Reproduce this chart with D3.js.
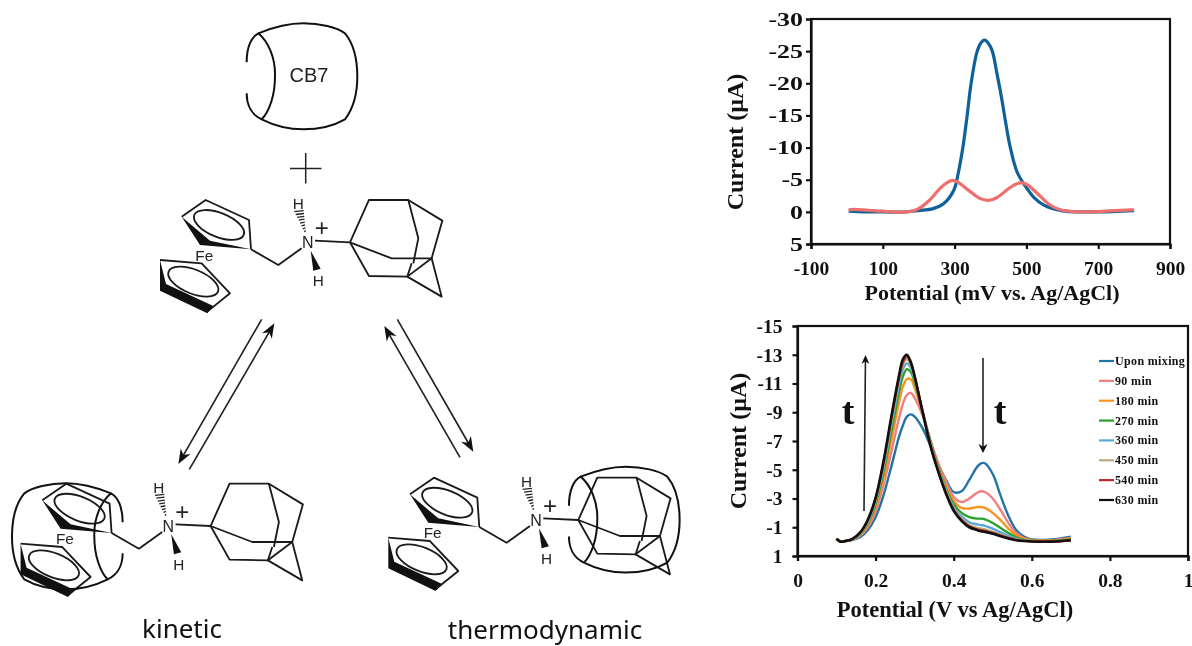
<!DOCTYPE html>
<html>
<head>
<meta charset="utf-8">
<script src="https://cdn.jsdelivr.net/npm/d3@7"></script>
<style>
body { margin: 0; background: #fff; overflow: hidden; }
svg { display: block; filter: blur(0.35px); }
.bold { font-family: "Liberation Serif", serif; font-weight: bold; fill: #111; }
.atom { font-family: "Liberation Sans", sans-serif; fill: #222; }
.label { font-family: "Noto Sans", sans-serif; fill: #111; }
.axis path, .axis line { stroke: #111; stroke-width: 2.2px; }
</style>
</head>
<body>
<script>
// top panel: oxidation peaks
var cvX1 = [5, 50, 100, 150, 200, 240, 270, 298, 310, 323, 335, 346, 363, 375, 384, 393, 405, 418, 430, 442, 454, 474, 497, 520, 550, 600, 650, 700, 800];
var cvFree = [-0.1, 0, 0, 0.05, -0.2, -0.5, -1.3, -3.4, -6, -10, -15, -20, -25, -26.4, -26.7, -26.3, -25, -21.5, -18, -14, -10.3, -6.2, -4, -2.3, -1, -0.15, 0, 0, -0.2];
var cvX2 = [5, 20, 60, 100, 170, 200, 230, 260, 280, 295, 310, 340, 370, 395, 420, 450, 470, 485, 500, 530, 560, 590, 620, 650, 700, 800];
var cvBound = [-0.3, -0.4, -0.25, -0.1, 0, -0.5, -1.8, -3.7, -4.6, -4.9, -4.6, -3.3, -2.1, -1.8, -2.3, -3.6, -4.3, -4.5, -4.3, -2.9, -1.3, -0.4, -0.1, 0, -0.05, -0.35];
var xTicks1 = [-100, 100, 300, 500, 700, 900];
var yTicks1 = [-30, -25, -20, -15, -10, -5, 0, 5];

// bottom panel: time series
var tLabels = ["Upon mixing", "90 min", "180 min", "270 min", "360 min", "450 min", "540 min", "630 min"];
var tColors = ["#2274a8", "#f07f7d", "#f8931f", "#2ca02c", "#5aa7da", "#b8ab7c", "#c0272d", "#111111"];
var tX = [0.10, 0.11, 0.12, 0.14, 0.16, 0.18, 0.20, 0.22, 0.24, 0.26, 0.27, 0.28, 0.29, 0.30, 0.32, 0.34, 0.36, 0.38, 0.40, 0.42, 0.44, 0.46, 0.47, 0.48, 0.50, 0.52, 0.54, 0.56, 0.58, 0.60, 0.65, 0.70];
var t0 = [-0.2, 0, -0.02, -0.1, -0.3, -0.8, -1.7, -3.2, -5.2, -7.3, -8.1, -8.7, -8.85, -8.7, -7.9, -6.7, -5.4, -4.3, -3.45, -3.5, -4.3, -5.2, -5.45, -5.45, -4.7, -3.2, -1.8, -0.8, -0.35, -0.15, -0.15, -0.35];
var t90 = [-0.2, 0, -0.03, -0.12, -0.4, -1, -2.1, -3.9, -6.2, -8.6, -9.6, -10.2, -10.35, -10, -8.8, -7.1, -5.5, -4.2, -3.1, -2.75, -3, -3.4, -3.5, -3.45, -3, -2.2, -1.3, -0.6, -0.25, -0.12, -0.1, -0.25];
var t180 = [-0.2, 0, -0.03, -0.14, -0.45, -1.15, -2.4, -4.4, -7, -9.7, -10.8, -11.3, -11.3, -10.7, -9, -7, -5.3, -3.9, -2.85, -2.35, -2.3, -2.4, -2.4, -2.35, -2, -1.5, -0.9, -0.45, -0.2, -0.1, -0.07, -0.2];
var t270 = [-0.2, 0, -0.03, -0.15, -0.5, -1.25, -2.6, -4.8, -7.6, -10.4, -11.5, -12, -11.8, -11.1, -9.1, -7, -5.2, -3.7, -2.6, -2, -1.7, -1.6, -1.6, -1.55, -1.3, -0.95, -0.6, -0.3, -0.12, -0.06, -0.05, -0.15];
var t360 = [-0.2, 0, -0.03, -0.16, -0.55, -1.35, -2.8, -5.1, -8, -10.9, -12, -12.4, -12.1, -11.3, -9.1, -6.9, -5.1, -3.6, -2.4, -1.75, -1.35, -1.2, -1.15, -1.1, -0.9, -0.65, -0.4, -0.2, -0.1, -0.05, -0.03, -0.12];
var t450 = [-0.2, 0, -0.03, -0.17, -0.58, -1.42, -2.9, -5.3, -8.3, -11.2, -12.3, -12.7, -12.3, -11.4, -9.1, -6.8, -5, -3.5, -2.3, -1.6, -1.15, -0.95, -0.9, -0.85, -0.68, -0.48, -0.3, -0.15, -0.07, -0.03, -0.02, -0.1];
var t540 = [-0.2, 0, -0.03, -0.18, -0.6, -1.48, -3, -5.45, -8.5, -11.4, -12.5, -12.9, -12.45, -11.5, -9.1, -6.8, -4.95, -3.4, -2.2, -1.5, -1.05, -0.85, -0.8, -0.75, -0.6, -0.42, -0.25, -0.12, -0.05, -0.02, -0.01, -0.1];
var t630 = [-0.2, 0, -0.03, -0.18, -0.62, -1.52, -3.05, -5.55, -8.65, -11.55, -12.7, -13, -12.5, -11.5, -9.05, -6.7, -4.9, -3.35, -2.15, -1.45, -1, -0.8, -0.72, -0.68, -0.55, -0.38, -0.22, -0.1, -0.04, -0.01, 0, -0.1];
var tSeries = [t0, t90, t180, t270, t360, t450, t540, t630];
var xTicks2 = [0, 0.2, 0.4, 0.6, 0.8, 1];
var yTicks2 = [-15, -13, -11, -9, -7, -5, -3, -1, 1];

// molecule drawing, traced at 3x, drawn with scale(1/3)
var barrelPath = "M290,187 C290,140 305,110 325,100 C355,125 377,175 375,230 C375,285 358,335 335,358 C305,345 290,315 290,280 M325,100 C380,78 430,70 460,70 C510,70 560,82 585,100 C610,130 622,180 622,230 C622,280 610,325 585,358 C550,378 510,388 460,388 C420,388 375,378 335,358";
var bonds = [
  [[95,650],[167,600],[297,660],[303,748]],
  [[30,780],[155,790],[240,880],[172,935]],
  [[303,748],[385,795],[455,745]],
  [[495,722],[600,727]],
  [[600,727],[657,600],[775,600],[877,662],[845,775],[725,775],[600,727]],
  [[600,727],[657,828],[772,830],[845,775]],
  [[775,600],[805,715],[790,790]],
  [[785,790],[772,830],[875,890],[845,775]]
];
var wedges = [
  [[95,650],[150,735],[303,748],[180,722]],
  [[30,780],[30,872],[172,940],[190,918],[48,852]],
  [[482,752],[490,812],[512,806]]
];
var ferrocene = [[207,675],[130,845]];
var atoms = [["Fe",136,782,46],["N",473,744,48],["H",445,628,46],["H",505,858,46],["+",515,708,72]];
var complexes = [[0,0,"none"],[-139.4,283.7,"mirror"],[228.3,277.7,"same"]];
var eqArrows = [
  [[305,28],[55,462]],
  [[88,478],[343,40]],
  [[900,442],[673,48]],
  [[712,28],[940,425]]
];

var svg = d3.select("body").append("svg").attr("width", 1192).attr("height", 646);

function bold(x, y, str, size, rotate) {
  var t = svg.append("text").attr("class", "bold").attr("text-anchor", "middle")
    .attr("font-size", size).text(str);
  if (rotate) t.attr("transform", "translate(" + x + "," + y + ") rotate(-90)");
  else t.attr("x", x).attr("y", y);
  return t;
}

// shared axes box
function panel(left, right, top, bottom, xDom, yDom, xTicks, yTicks, fontSize, xPad, yPad, yStretch) {
  var x = d3.scaleLinear().domain(xDom).range([left, right]);
  var y = d3.scaleLinear().domain(yDom).range([top, bottom]);
  svg.append("rect").attr("x", left).attr("y", top).attr("width", right - left).attr("height", bottom - top)
    .attr("fill", "none").attr("stroke", "#111").attr("stroke-width", 2.2);
  var ax = svg.append("g").attr("class", "axis").attr("transform", "translate(0," + bottom + ")")
    .call(d3.axisBottom(x).tickValues(xTicks).tickSizeOuter(0).tickSize(5).tickPadding(xPad).tickFormat(function(d) { return String(d); }));
  var ay = svg.append("g").attr("class", "axis").attr("transform", "translate(" + left + ",0)")
    .call(d3.axisLeft(y).tickValues(yTicks).tickSizeOuter(0).tickSize(5).tickPadding(yPad).tickFormat(function(d) { return String(d); }));
  ax.selectAll("text").attr("class", "bold").attr("font-size", fontSize);
  ay.selectAll("text").attr("class", "bold").attr("font-size", fontSize);
  // y labels of the first panel are wider in the picture
  ay.selectAll("text").each(function() {
    d3.select(this).attr("textLength", this.getComputedTextLength() * yStretch).attr("lengthAdjust", "spacingAndGlyphs");
  });
  return {x: x, y: y};
}

// chart 1
var p1 = panel(811, 1170, 19, 244, [-100, 900], [-30, 5], xTicks1, yTicks1, 19.5, 12, 3, 1.33);
var line1 = d3.line().curve(d3.curveCatmullRom);
svg.append("path").attr("fill", "none").attr("stroke", "#0f6199").attr("stroke-width", 3.2)
  .attr("d", line1(cvX1.map(function(d, i) { return [p1.x(d), p1.y(cvFree[i])]; })));
svg.append("path").attr("fill", "none").attr("stroke", "#ef6f6c").attr("stroke-width", 3.2)
  .attr("d", line1(cvX2.map(function(d, i) { return [p1.x(d), p1.y(cvBound[i])]; })));
bold(743, 142, "Current (µA)", 24, true);
bold(992, 300, "Potential (mV vs. Ag/AgCl)", 22);

// chart 2
var p2 = panel(797.5, 1188, 326, 556, [0, 1], [-15, 1], xTicks2, yTicks2, 19.5, 12, 10, 1);
tSeries.forEach(function(s, k) {
  svg.append("path").attr("fill", "none").attr("stroke", tColors[k]).attr("stroke-width", k == 7 ? 2.6 : 2.4)
    .attr("d", line1(tX.map(function(d, i) { return [p2.x(d), p2.y(s[i])]; })));
});
bold(746, 441, "Current (µA)", 24, true);
bold(955, 617, "Potential (V vs Ag/AgCl)", 22.5);
bold(848, 424, "t", 38);
bold(1000, 424, "t", 38);

var legendY = d3.scalePoint().domain(tLabels).range([361, 500]);
tLabels.forEach(function(d, k) {
  svg.append("line").attr("x1", 1099).attr("x2", 1114).attr("y1", legendY(d)).attr("y2", legendY(d))
    .attr("stroke", tColors[k]).attr("stroke-width", 2.2);
  svg.append("text").attr("class", "bold").attr("x", 1115).attr("y", legendY(d) + 4)
    .attr("font-size", 12).attr("letter-spacing", 0.35).text(d);
});

// time arrows
function arrow(g, a, b, len, half, width) {
  var ang = Math.atan2(b[1] - a[1], b[0] - a[0]);
  var ux = Math.cos(ang), uy = Math.sin(ang);
  g.append("line").attr("x1", a[0]).attr("y1", a[1]).attr("x2", b[0] - ux * len * 0.6).attr("y2", b[1] - uy * len * 0.6)
    .attr("stroke", "#222").attr("stroke-width", width);
  g.append("polygon").attr("fill", "#111").attr("points", [
    [b[0], b[1]],
    [b[0] - ux * len - uy * half, b[1] - uy * len + ux * half],
    [b[0] - ux * len * 0.7, b[1] - uy * len * 0.7],
    [b[0] - ux * len + uy * half, b[1] - uy * len - ux * half]
  ].join(" "));
}
arrow(svg, [864, 511], [865.5, 355], 9, 4, 1.6);
arrow(svg, [983, 358], [983, 453], 9, 4.5, 1.6);

// scheme
var eq = svg.append("g").attr("transform", "translate(160,310) scale(0.3333)");
eqArrows.forEach(function(a) { arrow(eq, a[0], a[1], 44, 17, 5); });

var lineMol = d3.line();
function drawMolecule(dx, dy) {
  var g = svg.append("g").attr("transform", "translate(" + (150 + dx) + "," + dy + ") scale(0.3333)");
  bonds.forEach(function(b) {
    g.append("path").attr("fill", "none").attr("stroke", "#1a1a1a").attr("stroke-width", 5.5)
      .attr("stroke-linejoin", "round").attr("d", lineMol(b));
  });
  // rings close through the wedges
  wedges.forEach(function(w) {
    g.append("polygon").attr("points", w.join(" ")).attr("fill", "#111");
  });
  ferrocene.forEach(function(c) {
    g.append("ellipse").attr("cx", c[0]).attr("cy", c[1]).attr("rx", 80).attr("ry", 36)
      .attr("transform", "rotate(22 " + c[0] + " " + c[1] + ")")
      .attr("fill", "none").attr("stroke", "#1a1a1a").attr("stroke-width", 5.5);
  });
  // hashed bond N to H
  d3.range(8).forEach(function(i) {
    var f = i / 7;
    g.append("line").attr("x1", 465 - 18 * f - (2 + 12 * f)).attr("x2", 465 - 18 * f + (2 + 12 * f))
      .attr("y1", 695 - 60 * f).attr("y2", 695 - 60 * f - 3).attr("stroke", "#222").attr("stroke-width", 4);
  });
  atoms.forEach(function(a) {
    g.append("text").attr("class", "atom").attr("text-anchor", a[0] == "Fe" ? "start" : "middle")
      .attr("x", a[1]).attr("y", a[2]).attr("font-size", a[3]).text(a[0]);
  });
}
complexes.forEach(function(c) { drawMolecule(c[0], c[1]); });

// barrels
function barrel(tr) {
  svg.append("path").attr("transform", tr).attr("d", barrelPath).attr("fill", "none")
    .attr("stroke", "#111").attr("stroke-width", 6);
}
barrel("translate(150,0) scale(0.3333)");
barrel("translate(219.3,460) scale(-0.3333,0.3333)");
barrel("translate(472.3,443.3) scale(0.3333)");

svg.append("text").attr("class", "atom").attr("x", 309).attr("y", 82).attr("text-anchor", "middle")
  .attr("font-size", 20).text("CB7");
svg.append("path").attr("d", "M290,168.5H321.5M305.7,153V183.5").attr("stroke", "#222").attr("stroke-width", 1.5).attr("fill", "none");

svg.append("text").attr("class", "label").attr("x", 182).attr("y", 638).attr("text-anchor", "middle").attr("font-size", 26).text("kinetic");
svg.append("text").attr("class", "label").attr("x", 545).attr("y", 638.5).attr("text-anchor", "middle").attr("font-size", 26).text("thermodynamic");
</script>
</body>
</html>
